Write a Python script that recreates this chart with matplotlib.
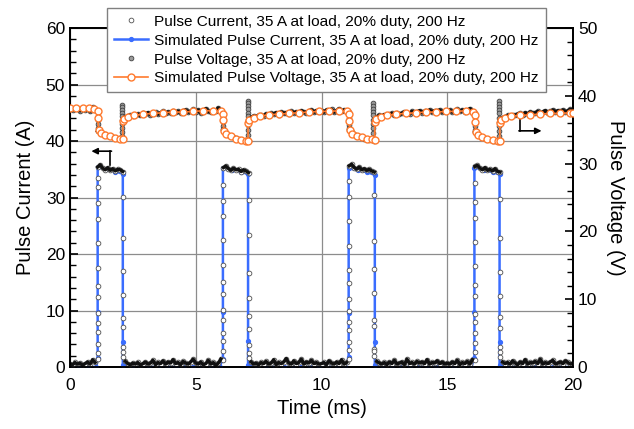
import numpy as np
import matplotlib
matplotlib.use("Agg")
import matplotlib.pyplot as plt
from matplotlib.ticker import MultipleLocator

plt.rcParams['font.family'] = ['Liberation Sans', 'DejaVu Sans']

# measured traces, one scope sample every 0.1 ms from 0 to 20 ms
meas_current = [
    # 0.0 - 4.9 ms
    0.6, 0.4, 0.8, 0.5, 0.7, 0.3, 0.6, 0.9, 0.5, 1.3, 0.8,
    35.4,
    35.8, 35.2, 34.9, 35.3, 34.8, 35.1, 34.7, 35.0, 34.9,
    34.6,
    1.0, 0.6, 0.4, 0.7, 0.5, 0.8, 0.3, 0.6, 0.9, 0.5, 0.7, 1.2, 0.4, 0.8,
    0.6, 1.1, 0.5, 0.9, 0.7, 1.3, 0.6, 0.8, 0.4, 1.0, 0.7, 0.5, 0.9, 1.4,
    # 5.0 - 9.9 ms
    0.7, 0.5, 0.9, 0.4, 0.6, 1.2, 0.5, 0.8, 0.3, 0.7, 1.4,
    35.3,
    35.6, 35.1, 34.8, 35.2, 34.9, 35.0, 34.6, 34.9, 34.7,
    34.4,
    0.9, 0.5, 0.7, 0.4, 0.8, 0.6, 1.0, 0.5, 0.7, 1.3, 0.4, 0.8, 0.6, 0.9,
    1.5, 0.7, 0.5, 1.1, 0.6, 0.8, 1.4, 0.5, 0.9, 0.7, 1.2, 0.6, 0.8, 0.5,
    # 10.0 - 14.9 ms
    0.6, 0.8, 0.4, 1.1, 0.7, 0.5, 0.9, 0.6, 1.3, 0.5, 0.8,
    35.6,
    35.9, 35.3, 35.0, 35.4, 34.9, 35.1, 34.8, 35.0, 34.7,
    34.5,
    1.0, 0.7, 0.5, 0.8, 0.4, 0.9, 0.6, 1.2, 0.5, 0.7, 0.9, 0.4, 1.4, 0.6,
    0.8, 0.5, 1.0, 0.7, 0.9, 0.6, 1.3, 0.5, 0.8, 0.7, 1.1, 0.6, 0.9, 0.5,
    # 15.0 - 20.0 ms
    0.7, 0.5, 0.9, 0.6, 1.2, 0.4, 0.8, 0.6, 1.0, 0.5, 1.3,
    35.5,
    35.7, 35.2, 34.9, 35.3, 34.8, 35.0, 34.7, 35.1, 34.6,
    34.5,
    0.9, 0.6, 0.8, 0.5, 1.1, 0.7, 0.4, 0.9, 0.6, 1.3, 0.5, 0.8, 0.7, 1.0,
    0.6, 1.4, 0.5, 0.8, 0.6, 0.9, 1.2, 0.5, 0.7, 0.9, 0.6, 1.1, 0.8, 0.5,
    0.7,
]

meas_voltage = [
    # 0.0 - 4.9 ms
    38.1, 37.9, 38.2, 38.0, 37.8, 38.1, 37.9, 38.0, 37.7, 38.3, 37.9,
    34.8,
    34.6, 34.4, 34.3, 34.1, 34.0, 33.9, 33.8, 33.7, 33.8,
    33.6,
    36.9, 37.0, 37.1, 37.0, 37.2, 37.3, 37.1, 37.4, 37.3, 37.5, 37.2, 37.4, 37.6, 37.3,
    37.5, 37.7, 37.4, 37.6, 37.5, 37.8, 37.6, 37.7, 37.5, 37.8, 37.9, 37.6, 37.7, 38.0,
    # 5.0 - 9.9 ms
    37.6, 37.9, 37.5, 37.8, 38.1, 37.7, 37.6, 37.9, 37.8, 38.2, 37.7,
    34.9,
    34.5, 34.2, 34.0, 33.9, 33.8, 33.6, 33.5, 33.4, 33.5,
    33.3,
    36.8, 37.0, 36.9, 37.1, 37.2, 37.0, 37.3, 37.2, 37.4, 37.3, 37.5, 37.2, 37.6, 37.4,
    37.5, 37.3, 37.7, 37.5, 37.6, 37.4, 37.8, 37.6, 37.5, 37.7, 37.9, 37.6, 37.8, 37.7,
    # 10.0 - 14.9 ms
    37.8, 37.6, 37.9, 37.7, 38.0, 37.6, 37.8, 38.1, 37.7, 37.9, 37.8,
    35.0,
    34.6, 34.3, 34.1, 34.0, 33.9, 33.7, 33.6, 33.5, 33.6,
    33.4,
    36.9, 37.1, 37.0, 37.2, 37.1, 37.3, 37.4, 37.2, 37.5, 37.3, 37.4, 37.6, 37.5, 37.3,
    37.7, 37.5, 37.6, 37.8, 37.5, 37.7, 37.6, 37.9, 37.6, 37.8, 37.7, 37.9, 37.6, 37.8,
    # 15.0 - 20.0 ms
    37.7, 37.9, 37.6, 37.8, 38.0, 37.7, 37.9, 37.6, 37.8, 38.1, 37.7,
    34.7,
    34.4, 34.1, 33.9, 33.8, 33.7, 33.5, 33.4, 33.3, 33.4,
    33.3,
    36.8, 36.9, 37.1, 37.0, 37.2, 37.1, 37.3, 37.4, 37.2, 37.5, 37.3, 37.6, 37.4, 37.5,
    37.7, 37.4, 37.6, 37.8, 37.5, 37.7, 37.9, 37.6, 37.8, 37.7, 37.9, 37.6, 37.8, 38.0,
    37.8,
]
meas_time = np.linspace(0, 20, len(meas_current))

# fast scope samples caught on the pulse edges
rise_times = [1.1, 6.1, 11.1, 16.1]
fall_times = [2.1, 7.1, 12.1, 17.1]
cur_rise_vals = [
    [1.5, 2.5, 4.1, 6.2, 7.8, 9.6, 12.4, 14.3, 17.5, 21.9, 26.2, 29.0, 31.9, 33.4],
    [1.2, 2.9, 4.6, 6.0, 8.3, 10.1, 12.9, 15.1, 18.0, 22.5, 26.8, 29.4, 32.3],
    [1.4, 3.0, 4.4, 6.5, 8.0, 9.9, 12.1, 14.8, 17.2, 21.4, 25.9, 30.1, 33.0],
    [1.3, 2.7, 4.3, 6.1, 7.9, 9.4, 12.6, 14.5, 17.8, 22.1, 26.4, 29.2, 32.6],
]
cur_fall_vals = [
    [30.1, 22.8, 17.0, 12.7, 8.7, 7.1, 3.5, 2.7, 1.8],
    [29.5, 23.4, 16.6, 12.2, 9.0, 6.8, 3.9, 2.5, 1.6],
    [30.4, 22.3, 17.4, 13.1, 8.4, 7.3, 3.2, 2.9, 1.9],
    [29.8, 22.9, 16.8, 12.5, 8.9, 6.9, 3.6, 2.6, 1.7],
]
volt_rise_vals = [
    [37.6, 37.0, 36.4, 35.8, 35.2],
    [37.5, 36.9, 36.2, 35.6, 35.1],
    [37.6, 36.8, 36.3, 35.7, 35.2],
    [37.4, 36.9, 36.2, 35.5, 35.0],
]
volt_fall_vals = [
    [38.7, 38.3, 37.9, 37.5, 37.0, 36.4, 35.8, 35.2, 34.6, 34.0],
    [39.3, 38.9, 38.5, 38.0, 37.5, 37.0, 36.4, 35.7, 35.0, 34.2],
    [38.9, 38.5, 38.1, 37.6, 37.1, 36.5, 35.9, 35.2, 34.5],
    [39.2, 38.8, 38.3, 37.9, 37.4, 36.8, 36.2, 35.5, 34.8, 34.0],
]

# simulated current (A)
sim_cur_t = [
    0.0, 0.35, 0.7, 1.05, 1.1, 1.1, 1.1, 1.45, 1.8, 2.1, 2.1, 2.1, 2.45, 2.8, 3.15, 3.5, 3.85, 4.2, 4.55, 4.9,
    5.25, 5.6, 5.95, 6.08, 6.08, 6.08, 6.45, 6.8, 7.08, 7.08, 7.08, 7.45, 7.8, 8.15, 8.5, 8.85, 9.2, 9.55, 9.9,
    10.25, 10.6, 10.95, 11.08, 11.08, 11.08, 11.45, 11.8, 12.12, 12.12, 12.12, 12.45, 12.8, 13.15, 13.5, 13.85, 14.2, 14.55, 14.9,
    15.25, 15.6, 15.95, 16.08, 16.08, 16.08, 16.45, 16.8, 17.08, 17.08, 17.08, 17.45, 17.8, 18.15, 18.5, 18.85, 19.2, 19.55, 19.9, 20.0,
]
sim_cur = [
    0, 0, 0, 0, 1.6, 9.7, 35.4, 35.0, 34.6, 34.2, 4.5, 0.3, 0, 0, 0, 0, 0, 0, 0, 0,
    0, 0, 0, 1.5, 9.8, 35.3, 34.9, 34.6, 34.1, 4.6, 0.3, 0, 0, 0, 0, 0, 0, 0, 0,
    0, 0, 0, 1.7, 9.6, 35.2, 34.8, 34.5, 34.0, 4.4, 0.3, 0, 0, 0, 0, 0, 0, 0, 0,
    0, 0, 0, 1.6, 9.7, 35.3, 34.9, 34.5, 34.1, 4.5, 0.3, 0, 0, 0, 0, 0, 0, 0, 0, 0,
]

# simulated voltage (V)
sim_volt_t = [
    0.0, 0.25, 0.5, 0.75, 0.95, 1.1, 1.1, 1.14, 1.25, 1.4, 1.6, 1.8, 2.0, 2.1, 2.1, 2.15, 2.3, 2.55, 2.9, 3.3, 3.7, 4.1, 4.5, 4.9,
    5.3, 5.7, 6.0, 6.08, 6.08, 6.12, 6.22, 6.4, 6.6, 6.8, 7.0, 7.08, 7.08, 7.13, 7.3, 7.55, 7.9, 8.3, 8.7, 9.1, 9.5, 9.9,
    10.3, 10.7, 11.0, 11.09, 11.09, 11.13, 11.23, 11.4, 11.6, 11.8, 12.0, 12.12, 12.12, 12.17, 12.35, 12.6, 12.95, 13.35, 13.75, 14.15, 14.55, 14.95,
    15.35, 15.75, 16.02, 16.09, 16.09, 16.13, 16.23, 16.4, 16.6, 16.8, 17.0, 17.09, 17.09, 17.14, 17.3, 17.55, 17.9, 18.3, 18.7, 19.1, 19.5, 19.9, 20.0,
]
sim_volt = [
    38.2, 38.2, 38.2, 38.2, 38.1, 37.7, 36.8, 35.0, 34.5, 34.2, 34.0, 33.8, 33.7, 33.6, 36.3, 36.6, 36.9, 37.1, 37.3, 37.4, 37.5, 37.6, 37.6, 37.7,
    37.8, 37.8, 37.7, 37.3, 36.4, 34.8, 34.3, 34.0, 33.7, 33.5, 33.4, 33.3, 36.0, 36.4, 36.8, 37.0, 37.2, 37.3, 37.4, 37.5, 37.6, 37.7,
    37.7, 37.8, 37.7, 37.3, 36.3, 34.9, 34.4, 34.1, 33.9, 33.7, 33.6, 33.5, 36.2, 36.6, 36.9, 37.1, 37.3, 37.4, 37.5, 37.6, 37.6, 37.7,
    37.7, 37.8, 37.6, 37.2, 36.2, 34.7, 34.2, 33.9, 33.7, 33.5, 33.4, 33.3, 36.0, 36.4, 36.8, 37.0, 37.1, 37.2, 37.3, 37.4, 37.4, 37.5, 37.5,
]

labels = [
    'Pulse Current, 35 A at load, 20% duty, 200 Hz',
    'Simulated Pulse Current, 35 A at load, 20% duty, 200 Hz',
    'Pulse Voltage, 35 A at load, 20% duty, 200 Hz',
    'Simulated Pulse Voltage, 35 A at load, 20% duty, 200 Hz',
]


def broken(t, v, jump):
    # cut the trace where it steps, so the dense band does not draw the edges
    out_t, out_v = [t[0]], [v[0]]
    for i in range(1, len(v)):
        if abs(v[i] - v[i - 1]) > jump:
            out_t.append(np.nan)
            out_v.append(np.nan)
        out_t.append(t[i])
        out_v.append(v[i])
    return out_t, out_v


# merge the grid samples with the edge samples
cur_t = list(meas_time)
cur_v = list(meas_current)
volt_t = list(meas_time)
volt_v = list(meas_voltage)
for k in range(4):
    cur_t += [rise_times[k]] * len(cur_rise_vals[k]) + [fall_times[k]] * len(cur_fall_vals[k])
    cur_v += cur_rise_vals[k] + cur_fall_vals[k]
    volt_t += [rise_times[k]] * len(volt_rise_vals[k]) + [fall_times[k] - 0.04] * len(volt_fall_vals[k])
    volt_v += volt_rise_vals[k] + volt_fall_vals[k]

blue = '#3a6dff'
orange = '#ff7a2e'

fig = plt.figure(figsize=(6.34, 4.29), dpi=100)
ax = fig.add_axes([0.1104, 0.1445, 0.7934, 0.7902])
ax2 = ax.twinx()

h2, = ax.plot(sim_cur_t, sim_cur, color=blue, lw=1.8, marker='o', ms=2.8,
              mfc=blue, mec=blue, zorder=3)
h1, = ax.plot(cur_t, cur_v, ls='none', marker='o', ms=3.4, mfc='white',
              mec='#505050', mew=0.6, zorder=4)
bt, bv = broken(meas_time, meas_current, 2.0)
ax.plot(bt, bv, color='#111111', lw=2.4, zorder=5)
h3, = ax2.plot(volt_t, volt_v, ls='none', marker='o', ms=3.4, mfc='#9a9a9a',
               mec='#404040', mew=0.6, zorder=2)
bt, bv = broken(meas_time, meas_voltage, 1.5)
ax2.plot(bt, bv, color='#111111', lw=2.6, zorder=3)
h4, = ax2.plot(sim_volt_t, sim_volt, color=orange, lw=1.2, marker='o', ms=5.0,
               mfc='white', mec=orange, mew=1.0, zorder=4)

ax.set_xlim(0, 20)
ax.set_ylim(0, 60)
ax2.set_ylim(0, 50)
ax.xaxis.set_major_locator(MultipleLocator(5))
ax.yaxis.set_major_locator(MultipleLocator(10))
ax.yaxis.set_minor_locator(MultipleLocator(2))
ax2.yaxis.set_major_locator(MultipleLocator(10))
ax2.yaxis.set_minor_locator(MultipleLocator(2))
ax.tick_params(axis='both', which='both', direction='in', labelsize=12.5)
ax.tick_params(axis='y', which='major', length=6, width=1.2)
ax.tick_params(axis='y', which='minor', length=4, width=1)
ax.tick_params(axis='x', length=0, pad=8)
ax2.tick_params(axis='y', which='both', direction='in', labelsize=12.5)
ax2.tick_params(axis='y', which='major', length=6, width=1.2)
ax2.tick_params(axis='y', which='minor', length=4, width=1)
ax.grid(True, color='#8c8c8c', lw=0.9)
ax.set_axisbelow(True)
for a in (ax, ax2):
    for s in a.spines.values():
        s.set_linewidth(1.3)

ax.set_xlabel('Time (ms)', fontsize=14.5, labelpad=4)
ax.set_ylabel('Pulse Current (A)', fontsize=14.5, labelpad=8)
ax2.set_ylabel('Pulse Voltage (V)', fontsize=14.5, rotation=270, labelpad=20)

# arrows telling which axis each trace belongs to
ax.plot([1.6, 1.6], [35.8, 38.2], color='black', lw=1.2, zorder=6)
ax.annotate('', xy=(0.85, 38.2), xytext=(1.65, 38.2),
            arrowprops=dict(arrowstyle='-|>', color='black', lw=1.2,
                            mutation_scale=9, shrinkA=0, shrinkB=0), zorder=6)
ax.plot([17.9, 17.9], [44.6, 41.8], color='black', lw=1.2, zorder=6)
ax.annotate('', xy=(18.75, 41.8), xytext=(17.85, 41.8),
            arrowprops=dict(arrowstyle='-|>', color='black', lw=1.2,
                            mutation_scale=9, shrinkA=0, shrinkB=0), zorder=6)

leg = fig.legend([h1, h2, h3, h4], labels, loc='upper left',
                 bbox_to_anchor=(0.169, 0.982), borderaxespad=0,
                 fontsize=11.1, frameon=True, fancybox=False, framealpha=1,
                 edgecolor='#808080', handlelength=2.2, handletextpad=0.4,
                 labelspacing=0.32, borderpad=0.45)
leg.get_frame().set_linewidth(1.0)
leg.set_zorder(10)

fig.savefig('out.png', dpi=100)
